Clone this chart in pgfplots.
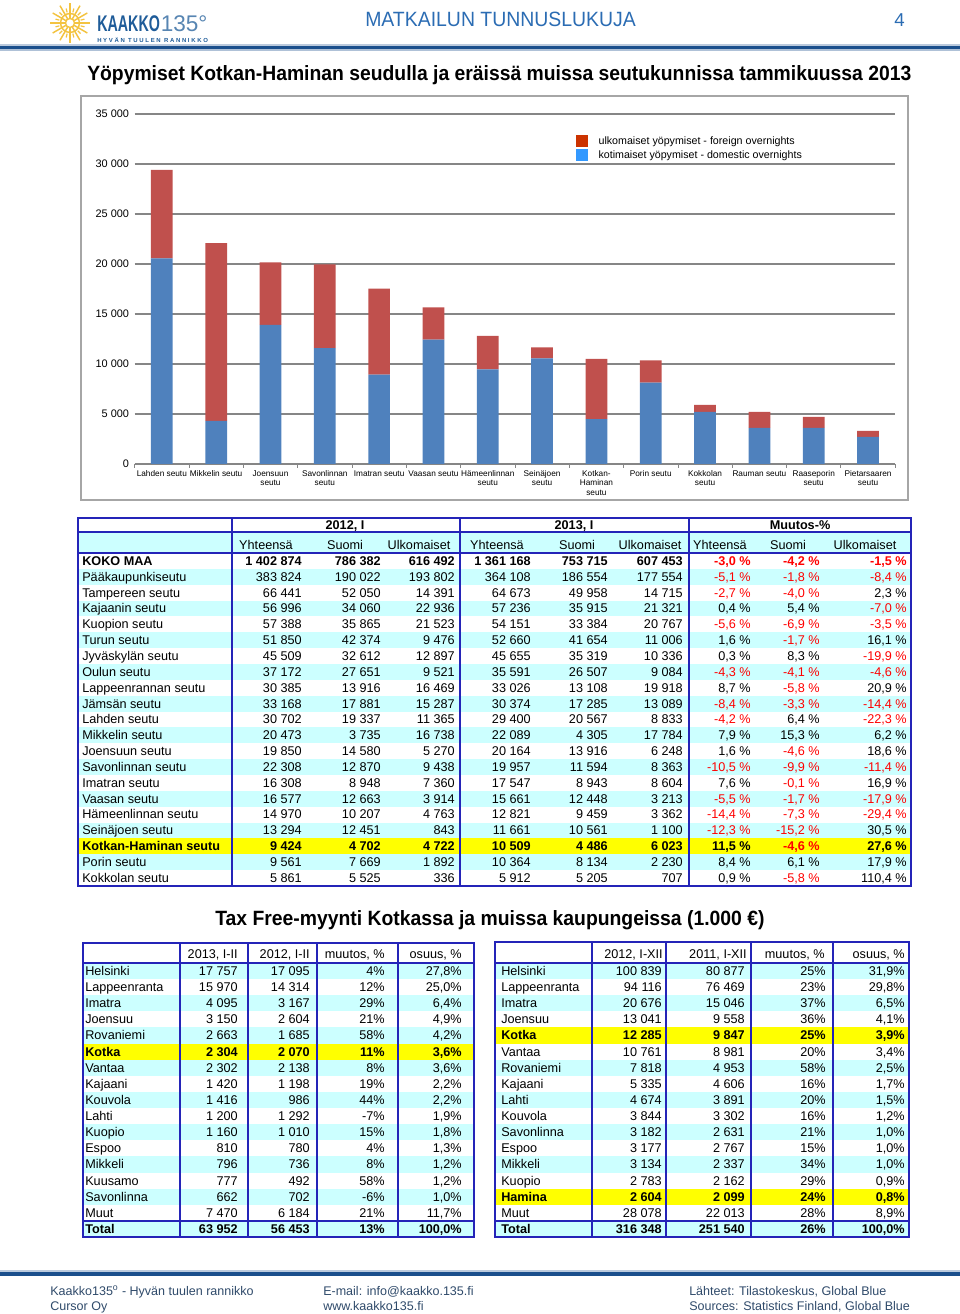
\documentclass[border=0pt]{standalone}
\usepackage{fontspec}
\setmainfont{Liberation Sans}
\usepackage{graphicx}
\usepackage{pgfplots}
\pgfplotsset{compat=1.18}

\definecolor{barblue}{HTML}{4F81BD}
\definecolor{barred}{HTML}{C0504D}
\definecolor{legred}{HTML}{CC3300}
\definecolor{legblue}{HTML}{3399FF}
\definecolor{gridgray}{HTML}{868686}
\definecolor{framegray}{HTML}{A6A6A6}
\definecolor{rowcyan}{HTML}{CCFFFF}
\definecolor{tblue}{HTML}{2424B8}
\definecolor{pred}{HTML}{FF0000}
\definecolor{hlyellow}{HTML}{FFFF00}
\definecolor{headblue}{HTML}{2B6CB3}
\definecolor{logoblue}{HTML}{1F5C99}
\definecolor{logoyellow}{HTML}{F3C340}
\definecolor{linblue}{HTML}{1B4F8C}
\definecolor{foottext}{HTML}{2F4A6A}

\newcommand\tfont{\fontsize{9.5}{11}\selectfont}
\def\getthree#1/#2/#3\relax{\def\va{#1}\def\vb{#2}\def\vc{#3}}
\def\getfour#1/#2/#3/#4\relax{\def\va{#1}\def\vb{#2}\def\vc{#3}\def\vd{#4}}
\newcommand\pct[1]{\expandafter\pctx#1\relax}
\def\pctx#1#2\relax{\ifx-#1\textcolor{pred}{#1#2 \%}\else#1#2 \%\fi}

\tikzset{tl/.style={anchor=base west,inner sep=0pt,font=\tfont},
         tr/.style={anchor=base east,inner sep=0pt,font=\tfont},
         tc/.style={anchor=base,inner sep=0pt,font=\tfont}}

% big table row: bg, font, name, 2012 a/b/c, 2013 a/b/c, change a/b/c
\newcounter{br}
\newcommand\brow[6]{%
  \pgfmathsetmacro\yc{561+15.85*\arabic{br}}%
  \fill[#1] (78,\yc-7.925) rectangle (911,\yc+7.925);%
  \node[tl] at (82,\yc+4.4) {#2#3};%
  \getthree#4\relax
  \node[tr] at (302,\yc+4.4) {#2\va};\node[tr] at (381,\yc+4.4) {#2\vb};\node[tr] at (455,\yc+4.4) {#2\vc};%
  \getthree#5\relax
  \node[tr] at (531,\yc+4.4) {#2\va};\node[tr] at (608,\yc+4.4) {#2\vb};\node[tr] at (683,\yc+4.4) {#2\vc};%
  \getthree#6\relax
  \node[tr] at (751,\yc+4.4) {#2\pct\va};\node[tr] at (820,\yc+4.4) {#2\pct\vb};\node[tr] at (907,\yc+4.4) {#2\pct\vc};%
  \stepcounter{br}}

% tax free row: bg, font, name, a/b/c/d
\newcounter{tf}
\newcommand\trow[4]{%
  \pgfmathsetmacro\yc{971.06+16.125*\arabic{tf}}%
  \fill[#1] (\tL,\yc-8.06) rectangle (\tR,\yc+8.06);%
  \node[tl] at (\tN,\yc+4.4) {#2#3};%
  \getfour#4\relax
  \node[tr] at (\cA,\yc+4.4) {#2\va};\node[tr] at (\cB,\yc+4.4) {#2\vb};%
  \node[tr] at (\cC,\yc+4.4) {#2\vc};\node[tr] at (\cD,\yc+4.4) {#2\vd};%
  \stepcounter{tf}}

\begin{document}
\begin{tikzpicture}
\path[use as bounding box] (0,0) rectangle (720pt,985.5pt);
\begin{scope}[shift={(0pt,985.5pt)}, x=0.75pt, y=-0.75pt]
  % ---------- header
  \begin{scope}[shift={(70,23)}]
    \draw[logoyellow, line width=1.1pt] (0,0) circle[radius=9.5];
    \draw[logoyellow, line width=1pt] (0,0) circle[radius=4.5];
    \foreach \a in {0,30,...,330}
      \draw[logoyellow, line width=1.1pt] (\a:4.5) -- (\a:20);
    \foreach \a in {15,45,...,345}
      \draw[logoyellow, line width=0.9pt] (\a:11) -- (\a:15);
  \end{scope}
  \node[anchor=base west, inner sep=0pt, text=logoblue] at (97,32)
    {\resizebox{47pt}{\height}{\fontsize{17}{18}\selectfont\bfseries KAAKKO}};
  \node[anchor=base west, inner sep=0pt, text=logoblue!75] at (160.5,32)
    {\resizebox{35pt}{\height}{\fontsize{17}{18}\selectfont 135°}};
  \node[anchor=base west, inner sep=0pt, text=logoblue] at (97,42.5)
    {\resizebox{83pt}{\height}{\fontsize{4.4}{5}\selectfont\bfseries H Y V Ä N\ \ T U U L E N\ \ R A N N I K K O}};
  \node[anchor=base west, inner sep=0pt, text=headblue] at (365,26.5)
    {\resizebox{203pt}{\height}{\fontsize{15.5}{18}\selectfont MATKAILUN TUNNUSLUKUJA}};
  \node[anchor=base east, inner sep=0pt, text=headblue] at (905,26.5)
    {\fontsize{14}{16}\selectfont 4};
  \fill[linblue!30] (0,44) rectangle (960,46);
  \fill[linblue] (0,46) rectangle (960,49.5);
  \fill[linblue!35] (0,49.5) rectangle (960,51);

  % ---------- chart title and frame
  \node[anchor=base west, inner sep=0pt] at (87,80.5)
    {\resizebox{618pt}{\height}{\fontsize{15.5}{18}\selectfont\bfseries Yöpymiset Kotkan-Haminan seudulla ja eräissä muissa seutukunnissa tammikuussa 2013}};
  \draw[framegray, line width=0.9pt] (81,96) rectangle (908,500);

  % ---------- big table
  \fill[rowcyan] (78,532) rectangle (911,553);
  \node[tc] at (345,529.4) {\bfseries 2012, I};
  \node[tc] at (574,529.4) {\bfseries 2013, I};
  \node[tc] at (800,529.4) {\bfseries Muutos-\%};
  \node[tc] at (266,549.4) {Yhteensä};\node[tc] at (345,549.4) {Suomi};\node[tc] at (419,549.4) {Ulkomaiset};
  \node[tc] at (497,549.4) {Yhteensä};\node[tc] at (577,549.4) {Suomi};\node[tc] at (650,549.4) {Ulkomaiset};
  \node[tc] at (720,549.4) {Yhteensä};\node[tc] at (788,549.4) {Suomi};\node[tc] at (865,549.4) {Ulkomaiset};
  \brow{white}{\bfseries}{KOKO MAA}{1 402 874/786 382/616 492}{1 361 168/753 715/607 453}{-3,0/-4,2/-1,5}
  \brow{rowcyan}{}{Pääkaupunkiseutu}{383 824/190 022/193 802}{364 108/186 554/177 554}{-5,1/-1,8/-8,4}
  \brow{white}{}{Tampereen seutu}{66 441/52 050/14 391}{64 673/49 958/14 715}{-2,7/-4,0/2,3}
  \brow{rowcyan}{}{Kajaanin seutu}{56 996/34 060/22 936}{57 236/35 915/21 321}{0,4/5,4/-7,0}
  \brow{white}{}{Kuopion seutu}{57 388/35 865/21 523}{54 151/33 384/20 767}{-5,6/-6,9/-3,5}
  \brow{rowcyan}{}{Turun seutu}{51 850/42 374/9 476}{52 660/41 654/11 006}{1,6/-1,7/16,1}
  \brow{white}{}{Jyväskylän seutu}{45 509/32 612/12 897}{45 655/35 319/10 336}{0,3/8,3/-19,9}
  \brow{rowcyan}{}{Oulun seutu}{37 172/27 651/9 521}{35 591/26 507/9 084}{-4,3/-4,1/-4,6}
  \brow{white}{}{Lappeenrannan seutu}{30 385/13 916/16 469}{33 026/13 108/19 918}{8,7/-5,8/20,9}
  \brow{rowcyan}{}{Jämsän seutu}{33 168/17 881/15 287}{30 374/17 285/13 089}{-8,4/-3,3/-14,4}
  \brow{white}{}{Lahden seutu}{30 702/19 337/11 365}{29 400/20 567/8 833}{-4,2/6,4/-22,3}
  \brow{rowcyan}{}{Mikkelin seutu}{20 473/3 735/16 738}{22 089/4 305/17 784}{7,9/15,3/6,2}
  \brow{white}{}{Joensuun seutu}{19 850/14 580/5 270}{20 164/13 916/6 248}{1,6/-4,6/18,6}
  \brow{rowcyan}{}{Savonlinnan seutu}{22 308/12 870/9 438}{19 957/11 594/8 363}{-10,5/-9,9/-11,4}
  \brow{white}{}{Imatran seutu}{16 308/8 948/7 360}{17 547/8 943/8 604}{7,6/-0,1/16,9}
  \brow{rowcyan}{}{Vaasan seutu}{16 577/12 663/3 914}{15 661/12 448/3 213}{-5,5/-1,7/-17,9}
  \brow{white}{}{Hämeenlinnan seutu}{14 970/10 207/4 763}{12 821/9 459/3 362}{-14,4/-7,3/-29,4}
  \brow{rowcyan}{}{Seinäjoen seutu}{13 294/12 451/843}{11 661/10 561/1 100}{-12,3/-15,2/30,5}
  \brow{hlyellow}{\bfseries}{Kotkan-Haminan seutu}{9 424/4 702/4 722}{10 509/4 486/6 023}{11,5/-4,6/27,6}
  \brow{rowcyan}{}{Porin seutu}{9 561/7 669/1 892}{10 364/8 134/2 230}{8,4/6,1/17,9}
  \brow{white}{}{Kokkolan seutu}{5 861/5 525/336}{5 912/5 205/707}{0,9/-5,8/110,4}
  \draw[tblue, line width=1pt] (78,518) rectangle (911,886);
  \draw[tblue, line width=1pt] (78,532) -- (911,532) (78,553) -- (911,553);
  \foreach \xx in {232,460,689} \draw[tblue, line width=1pt] (\xx,518) -- (\xx,886);

  % ---------- tax free title
  \node[anchor=base west, inner sep=0pt] at (215,926)
    {\resizebox{412pt}{\height}{\fontsize{15.5}{18}\selectfont\bfseries Tax Free-myynti Kotkassa ja muissa kaupungeissa (1.000 €)}};

  % ---------- left tax free table
  \def\tL{83}\def\tR{474}\def\tN{85}\def\cA{238}\def\cB{310}\def\cC{385}\def\cD{462}
  \setcounter{tf}{0}
  \node[tr] at (\cA,958.4) {2013, I-II};\node[tr] at (\cB,958.4) {2012, I-II};
  \node[tr] at (\cC,958.4) {muutos, \%};\node[tr] at (\cD,958.4) {osuus, \%};
  \trow{rowcyan}{}{Helsinki}{17 757/17 095/4\%/27,8\%}
  \trow{white}{}{Lappeenranta}{15 970/14 314/12\%/25,0\%}
  \trow{rowcyan}{}{Imatra}{4 095/3 167/29\%/6,4\%}
  \trow{white}{}{Joensuu}{3 150/2 604/21\%/4,9\%}
  \trow{rowcyan}{}{Rovaniemi}{2 663/1 685/58\%/4,2\%}
  \trow{hlyellow}{\bfseries}{Kotka}{2 304/2 070/11\%/3,6\%}
  \trow{rowcyan}{}{Vantaa}{2 302/2 138/8\%/3,6\%}
  \trow{white}{}{Kajaani}{1 420/1 198/19\%/2,2\%}
  \trow{rowcyan}{}{Kouvola}{1 416/986/44\%/2,2\%}
  \trow{white}{}{Lahti}{1 200/1 292/-7\%/1,9\%}
  \trow{rowcyan}{}{Kuopio}{1 160/1 010/15\%/1,8\%}
  \trow{white}{}{Espoo}{810/780/4\%/1,3\%}
  \trow{rowcyan}{}{Mikkeli}{796/736/8\%/1,2\%}
  \trow{white}{}{Kuusamo}{777/492/58\%/1,2\%}
  \trow{rowcyan}{}{Savonlinna}{662/702/-6\%/1,0\%}
  \trow{white}{}{Muut}{7 470/6 184/21\%/11,7\%}
  \trow{rowcyan}{\bfseries}{Total}{63 952/56 453/13\%/100,0\%}
  \draw[tblue, line width=1.2pt] (83,943) rectangle (474,1237);
  \draw[tblue, line width=1.2pt] (83,963) -- (474,963) (83,1221) -- (474,1221);
  \foreach \xx in {180,248,317,398} \draw[tblue, line width=1.2pt] (\xx,943) -- (\xx,1237);

  % ---------- right tax free table
  \def\tL{495}\def\tR{909}\def\tN{501}\def\cA{662}\def\cB{745}\def\cC{826}\def\cD{905}
  \setcounter{tf}{0}
  \node[tr] at (663,958.4) {2012, I-XII};\node[tr] at (747,958.4) {2011, I-XII};
  \node[tr] at (825,958.4) {muutos, \%};\node[tr] at (905,958.4) {osuus, \%};
  \trow{rowcyan}{}{Helsinki}{100 839/80 877/25\%/31,9\%}
  \trow{white}{}{Lappeenranta}{94 116/76 469/23\%/29,8\%}
  \trow{rowcyan}{}{Imatra}{20 676/15 046/37\%/6,5\%}
  \trow{white}{}{Joensuu}{13 041/9 558/36\%/4,1\%}
  \trow{hlyellow}{\bfseries}{Kotka}{12 285/9 847/25\%/3,9\%}
  \trow{white}{}{Vantaa}{10 761/8 981/20\%/3,4\%}
  \trow{rowcyan}{}{Rovaniemi}{7 818/4 953/58\%/2,5\%}
  \trow{white}{}{Kajaani}{5 335/4 606/16\%/1,7\%}
  \trow{rowcyan}{}{Lahti}{4 674/3 891/20\%/1,5\%}
  \trow{white}{}{Kouvola}{3 844/3 302/16\%/1,2\%}
  \trow{rowcyan}{}{Savonlinna}{3 182/2 631/21\%/1,0\%}
  \trow{white}{}{Espoo}{3 177/2 767/15\%/1,0\%}
  \trow{rowcyan}{}{Mikkeli}{3 134/2 337/34\%/1,0\%}
  \trow{white}{}{Kuopio}{2 783/2 162/29\%/0,9\%}
  \trow{hlyellow}{\bfseries}{Hamina}{2 604/2 099/24\%/0,8\%}
  \trow{white}{}{Muut}{28 078/22 013/28\%/8,9\%}
  \trow{rowcyan}{\bfseries}{Total}{316 348/251 540/26\%/100,0\%}
  \draw[tblue, line width=1.2pt] (495,942) rectangle (909,1237);
  \draw[tblue, line width=1.2pt] (495,963) -- (909,963) (495,1221) -- (909,1221);
  \foreach \xx in {592,666,751,833} \draw[tblue, line width=1.2pt] (\xx,942) -- (\xx,1237);

  % ---------- footer
  \fill[linblue!30] (0,1270.5) rectangle (960,1272.5);
  \fill[linblue] (0,1272.5) rectangle (960,1276.5);
  \begin{scope}[every node/.style={anchor=base west, inner sep=0pt, text=foottext, font=\fontsize{9.4}{11}\selectfont}]
    \node at (50,1295.5) {Kaakko135\textsuperscript{o} - Hyvän tuulen rannikko};
    \node at (50,1310.5) {Cursor Oy};
    \node at (323,1295.5) {E-mail: info@kaakko.135.fi};
    \node at (323,1310.5) {www.kaakko135.fi};
    \node at (689,1295.5) {Lähteet: Tilastokeskus, Global Blue};
    \node at (689,1310.5) {Sources: Statistics Finland, Global Blue};
  \end{scope}
\end{scope}

\begin{axis}[
  at={(101pt,637.5pt)}, anchor=south west,
  scale only axis, width=570.4pt, height=262.5pt,
  ybar stacked, bar width=16.3pt,
  xmin=-0.5, xmax=13.5, ymin=0, ymax=35000,
  axis line style={draw=none},
  tick pos=left, tick align=outside,
  xtick={0,...,13},
  xticklabels={Lahden seutu,Mikkelin seutu,{Joensuun\\seutu},{Savonlinnan\\seutu},Imatran seutu,Vaasan seutu,{Hämeenlinnan\\seutu},{Seinäjoen\\seutu},{Kotkan-\\Haminan\\seutu},Porin seutu,{Kokkolan\\seutu},Rauman seutu,{Raaseporin\\seutu},{Pietarsaaren\\seutu}},
  xticklabel style={font=\fontsize{6.2}{6.8}\selectfont, align=center, inner sep=0pt, yshift=-5pt},
  major tick length=0pt,
  minor xtick={-0.5,0.5,...,13.5},
  minor tick length=3pt,
  minor x tick style={draw=gridgray, line width=0.6pt},
  ytick={0,5000,...,35000},
  scaled y ticks=false,
  yticklabel style={font=\fontsize{8.2}{9}\selectfont, inner sep=0pt, xshift=-4pt,
    /pgf/number format/1000 sep={\ }, /pgf/number format/assume math mode=true},
  ymajorgrids, major grid style={draw=gridgray, line width=0.8pt},
  legend style={at={(0.58,0.94)}, anchor=north west, draw=none, fill=none,
    inner sep=0pt, font=\fontsize{8}{8.5}\selectfont, row sep=1.2pt, nodes={inner sep=0.5pt}},
  legend cell align=left,
]
\addlegendimage{legend image code/.code={\fill[legred] (0pt,-3.3pt) rectangle (8pt,4.7pt); \path (16pt,0pt);}}
\addlegendentry{ulkomaiset yöpymiset - foreign overnights}
\addlegendimage{legend image code/.code={\fill[legblue] (0pt,-3.3pt) rectangle (8pt,4.7pt); \path (16pt,0pt);}}
\addlegendentry{kotimaiset yöpymiset - domestic overnights}
% domestic overnights, January 2013
\addplot[fill=barblue, draw=none] coordinates {
  (0,20567) (1,4305) (2,13916) (3,11594) (4,8943) (5,12448) (6,9459)
  (7,10561) (8,4486) (9,8134) (10,5205) (11,3600) (12,3600) (13,2700)};
% foreign overnights, January 2013
\addplot[fill=barred, draw=none] coordinates {
  (0,8833) (1,17784) (2,6248) (3,8363) (4,8604) (5,3213) (6,3362)
  (7,1100) (8,6023) (9,2230) (10,707) (11,1600) (12,1100) (13,600)};
\end{axis}
\end{tikzpicture}
\end{document}
